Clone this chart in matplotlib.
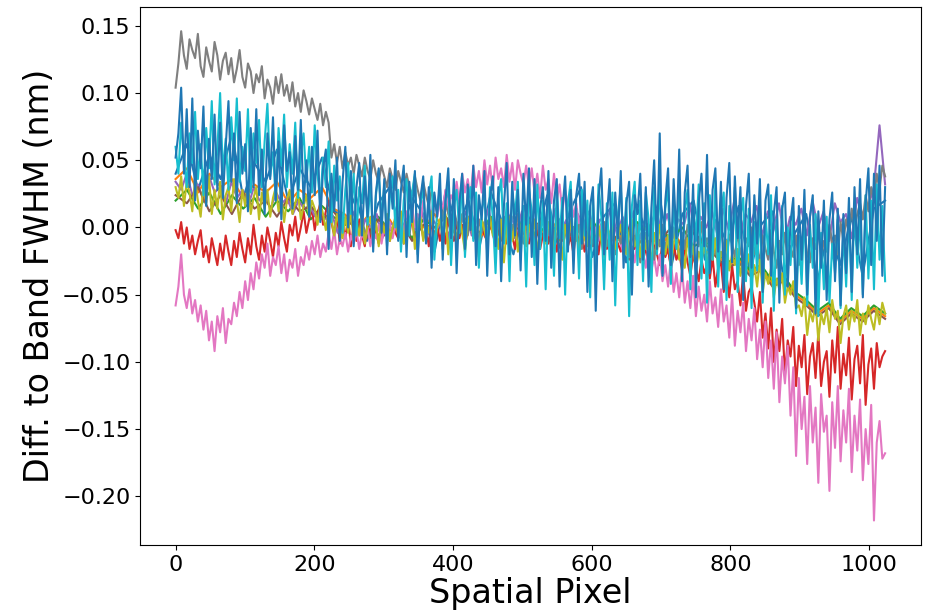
import numpy as np
import matplotlib
matplotlib.use("Agg")
import matplotlib.pyplot as plt

# Values in units of 1e-3 nm (converted to nm below)
blue_base = [
    40, 62, 28, 54, 36, 70, 22, 48, 34, 58, 20, 44, 30, 52, 14, 4,
    24, -10, 18, 30, -6, 22, 10, -18, 28, 0, 20, -14, 26, 4, -20, 16,
    -8, 24, -16, 12, 30, -22, 8, 18, -26, 14, -6, 22, -30, 10, 20, -24,
    6, -12, 16, -34, 2, 12, -38, -4, 10, -40, 0, -28, 8, -36, 14, 20]

orange = [
    36, 44, 26, 40, 30, 36, 22, 32, 26, 34, 18, 28, 22, 30, 14, 10,
    -2, 8, -6, 6, -8, 4, 0, 10, -6, 2, 8, -8, 4, -4, 8, -10,
    2, -6, 6, -10, 0, -8, 4, -12, -2, -8, 2, -14, -4, -12, -2, -18,
    -20, -28, -24, -34, -30, -42, -38, -50, -56, -64, -58, -70, -62, -68, -60, -66]

green = [
    20, 28, 14, 26, 10, 24, 14, 22, 8, 20, 12, 22, 6, 16, 8, 2,
    4, -6, 8, -2, 4, -8, 6, 0, 8, -6, 2, -4, 8, -8, 0, 4,
    -6, 2, -10, 2, -4, 6, -10, 0, -4, 4, -12, -2, -8, 0, -14, -10,
    -18, -26, -22, -32, -28, -40, -36, -48, -54, -62, -56, -68, -60, -66, -58, -64]

red = [
    -2, -8, 4, -12, 0, -16, -6, -20, -10, -2, -22, -14, -26, -8, -18, -28,
    -12, -24, -6, -18, -28, -10, -22, -4, -16, -26, -8, -20, 2, -14, -24, -6,
    -18, 0, -10, -22, -4, -14, 4, -8, -18, 2, -6, 8, -10, 0, 12, -4,
    6, 14, -2, 10, 18, 2, 12, 20, 4, -6, 10, -12, 4, -8, 8, -14,
    2, -10, 6, -6, -14, 4, -8, 8, -4, -12, 2, -6, 6, -10, 0, -4,
    -8, 4, -12, 2, -6, 8, -10, -2, 6, -8, 0, -14, 4, -6, 2, -10,
    0, -12, 6, -4, -10, 4, -8, 2, -14, -2, 6, -8, 0, -12, 4, -6,
    -10, 2, -4, -14, 4, -8, 0, -12, 6, -6, -16, 2, -10, -4, 4, -12,
    -2, -10, 2, -16, -6, 0, -12, 4, -8, -18, -2, -10, 2, -14, -6, -20,
    0, -12, -4, -18, -8, 2, -14, -6, -20, -2, -10, -16, -4, -22, -8, -12,
    -18, -6, -14, -24, -2, -16, -10, -22, -8, -18, -26, -6, -14, -20, -28, -10,
    -22, -16, -30, -12, -24, -18, -32, -14, -26, -36, -20, -30, -40, -24, -34, -28,
    -38, -22, -44, -30, -26, -48, -36, -52, -28, -46, -40, -58, -34, -62, -48, -44,
    -56, -70, -48, -82, -64, -90, -60, -100, -76, -92, -68, -110, -84, -96, -74, -118,
    -88, -104, -80, -124, -96, -86, -112, -78, -118, -100, -92, -126, -84, -108, -74, -120,
    -94, -110, -82, -128, -98, -88, -116, -80, -132, -102, -90, -120, -86, -104, -96, -92]

purple = [
    34, 28, 40, 24, 32, 20, 38, 26, 30, 18, 34, 22, 28, 16, 30, 20,
    24, 14, 26, 18, 22, 10, 20, 14, 16, 8, 12, 6,
    10, -4, 8, 2, 12, -6, 6, 0, 10, -8, 4, 2, 12, -4, 8, -2,
    14, -6, 6, 0, 10, -10, 4, 2, 12, -6, 8, -2, 14, -8,
    6, 0, 10, -4, 12, -10, 4, 2, 8, -6, 14, -2, 6, -8, 10, 0,
    12, -4, 6, 2, 16, -6, 8, -2, 12, -10, 4, 0, 14, -4,
    10, -8, 6, 2, 18, -4, 8, 0, 12, -6, 14, -2, 20, -8, 10, 4,
    16, -6, 12, -2, 18, -10, 8, 2,
    14, -6, 20, 0, 12, -10, 18, 4, 10, -8, 22, 8, 16, 30, 76, 32]

brown = [
    24, 18, 30, 12, 24, 10, 26, 14, 20, 8, 22, 12, 16, 6, 12, 2,
    4, -8, 6, -2, 4, -10, 2, 0, 8, -8, 4, -4, 6, -10, 0, -2,
    4, -12, 2, -6, 4, -12, 0, -8, 2, -14, -2, -10, 0, -16, -4, -12,
    -22, -30, -26, -36, -32, -44, -40, -52, -58, -66, -60, -72, -64, -70, -62, -68]

pink = [
    -58, -44, -20, -50, -60, -46, -64, -54, -70, -58, -76, -62, -84, -70, -92, -66,
    -78, -60, -86, -68, -72, -56, -66, -48, -60, -40, -54, -34, -46, -26, -38, -20,
    -30, -12, -36, -22, -28, -14, -34, -20, -40, -24, -30, -16, -36, -22, -28, -14,
    -24, -10, -20, -6, -22, -12, -18, -4, -16, -2, -20, -8, -14, -4, -18, -6,
    -12, -2, -16, -4, -10, 0, -14, -2, -8, 2, -12, 0, -6, 4, -8, 2,
    -2, 8, -4, 12, 2, 16, 0, 10, 6, 20, 4, 14, 10, 24, 8, 18,
    14, 28, 12, 24, 20, 34, 18, 40, 26, 36, 22, 46, 30, 42, 26, 50,
    32, 46, 28, 52, 36, 44, 30, 54, 34, 48, 28, 50, 40, 32, 46, 30,
    44, 26, 40, 22, 46, 28, 36, 18, 40, 20, 32, 12, 28, 16, 24, 8,
    18, 2, 12, -4, 8, -8, 4, -2, -10, 2, -12, -4, -14, 0, -16, -6,
    -12, -20, -8, -22, -14, -26, -10, -24, -18, -30, -14, -32, -22, -36, -20, -40,
    -28, -44, -24, -48, -34, -52, -30, -56, -40, -60, -36, -66, -44, -62, -50, -70,
    -40, -64, -52, -74, -46, -70, -58, -82, -50, -88, -62, -78, -56, -92, -68, -84,
    -60, -98, -76, -104, -70, -112, -84, -120, -78, -130, -96, -116, -88, -140, -104, -170,
    -112, -150, -126, -176, -118, -160, -134, -190, -124, -152, -140, -196, -130, -164, -118, -174,
    -136, -160, -120, -182, -140, -166, -128, -188, -150, -176, -132, -218, -160, -144, -172, -168]

gray = [
    104, 122, 146, 128, 118, 140, 132, 126, 144, 120, 112, 134, 124, 116, 138, 128,
    110, 124, 130, 114, 126, 108, 118, 132, 112, 104, 122, 116, 100, 114, 108, 120,
    96, 110, 104, 92, 112, 100, 114, 98, 106, 94, 108, 90, 100, 86, 102, 94,
    84, 96, 88, 80, 92, 76, 86, 78, 52, 62, 48, 60, 44, 56, 46, 52,
    40, 54, 46, 38, 52, 42, 36, 50, 40, 34, 46, 38, 30, 44, 36, 28,
    42, 34, 26, 40, 30, 24, 38, 28, 20, 34, 24, 16, 28, 18, 12, 22,
    6, 18, 10, 2, 14, 4, -4, 10, 0, -6, 8, -2, -10, 6, -4, 4,
    -8, 6, -2, -12, 4, -6, 8, -4, -10, 2, -8, 10, -2, -12, 0, 6,
    -6, -14, 2, -4, 8, -10, -2, 4, -12, -6, 6, -8, 0, -14, 4, -2,
    -10, 2, -16, -4, 6, -12, -2, -18, 0, -8, 4, -14, -6, 2, -20, -4,
    -12, 4, -8, -22, -2, -14, 2, -26, -10, -4, -18, 0, -24, -8, -14, 2,
    -16, -6, -20, 0, -12, -22, -4, -16, 2, -10, -20, -2, -14, 4, -18, -8,
    -14, -2, -20, -8, 0, -16, -24, -6, -12, -22, -4, -18, -26, -8, -14, 0,
    -20, -10, -28, -6, -16, -24, -2, -18, -30, -10, -20, -4, -26, -14, -22, -6,
    -28, -12, -2, -20, -26, -8, -16, 0, -22, -10, -18, 2, -14, -6, -20, 4,
    -10, 6, -4, 14, 0, 10, 18, 6, 24, 12, 30, 20, 40, 28, 46, 38]

olive = [
    30, 22, 38, 16, 34, 26, 12, 36, 20, 8, 32, 18, 38, 10, 28, 14,
    34, 6, 24, 30, 12, 36, 20, 4, 28, 16, 32, 10, 22, 30, 6, 26,
    14, 28, 8, 22, 30, 12, 24, 4, 20, 28, 10, 18, 26, 6, 16, 24,
    8, 20, 14, 2, 18, 10, -2, 14, 6, -6, 10, 0, -8, 8, -4, 12,
    -10, 4, -6, 10, -12, 2, 8, -8, 4, -14, 6, -4, 10, -10, 0, 8,
    -6, 12, -12, 4, -2, 10, -16, 2, 8, -10, 4, -4, 12, -14, 0, 6,
    -8, 10, -20, 2, 6, -12, 8, -4, -18, 4, 10, -8, 0, -22, 6, -2,
    -12, 8, -6, 2, -16, 6, -26, 0, 8, -10, 4, -18, -4, 10, -14, 2,
    -8, 6, -20, 0, 10, -12, 4, -6, -16, 8, -2, -24, 2, -10, 6, -14,
    0, -20, 4, -8, -14, 6, -4, -18, 2, -10, -22, 0, -6, 4, -16, -8,
    2, -12, -20, -4, 6, -14, -8, -22, 0, -16, -10, -26, -4, -18, 2, -12,
    -20, -6, -28, -12, -2, -24, -16, -30, -8, -22, -14, -32, -18, -26, -10, -28,
    -14, -24, -8, -30, -18, -26, -10, -32, -20, -28, -16, -36, -24, -30, -20, -40,
    -28, -44, -24, -48, -34, -42, -30, -52, -38, -46, -34, -56, -44, -50, -40, -60,
    -58, -66, -52, -80, -62, -70, -56, -84, -64, -72, -60, -78, -54, -68, -62, -86,
    -66, -58, -76, -62, -70, -54, -80, -64, -72, -58, -68, -76, -60, -72, -56, -64]

cyan = [
    60, 40, 78, 52, 30, 70, 48, 86, 36, 62, 24, 74, 44, 94, 32, 58,
    100, 40, 66, 28, 82, 50, 96, 34, 60, 42, 88, 26, 70, 48, 80, 30,
    64, 92, 38, 56, 20, 74, 46, 84, 30, 62, 40, 78, 22, 54, 70, 34,
    60, 26, 76, 40, 18, 52, 30, 64, 4, 46, 20, 38, -4, 28, 48, 10,
    40, -6, 30, 18, 46, 2, 34, -12, 24, 42, 6, 32, -14, 22, 38, 0,
    28, -18, 20, 36, -6, 26, 40, -20, 16, 30, -10, 24, 38, -24, 12, 30,
    -16, 20, 34, -28, 14, 28, -4, 36, -22, 18, 30, -10, 26, -30, 12, 24,
    -20, 30, 8, -34, 22, 36, -12, 18, -40, 26, 10, 34, -24, 16, -44, 28,
    12, -28, 32, -16, 20, -46, 26, 6, -36, 30, -8, 22, -50, 18, 34, -20,
    14, -38, 28, -6, 20, -52, 24, -30, 32, 8, -46, 18, -24, 26, -58, 10,
    30, -14, 22, -66, 16, 34, -28, 20, -40, 26, 6, -48, 30, -20, 38, -34,
    14, 30, -42, 22, -16, 36, -30, 12, 28, -46, 20, -10, 32, -38, 18, -56,
    24, -24, 34, -44, 10, 26, -54, 16, -18, 30, -48, 8, 22, -40, 14, -60,
    4, -32, 18, -56, 10, -20, 24, -62, 6, -38, 16, -50, 0, -28, 12, -64,
    -6, -42, 14, -58, 2, -30, 10, -66, -4, -46, 8, -56, -12, -34, 6, -60,
    -2, -44, 12, -54, 18, -30, 8, -50, 24, -38, 20, -46, 32, -24, 16, -40]

blue_top = [
    52, 70, 104, 40, 88, 30, 96, 20, 72, 44, 90, 16, 66, 36, 84, 28,
    78, 22, 60, 94, 34, 70, 18, 86, 40, 62, 12, 74, 30, 88, 24, 58,
    10, 70, 36, 82, 20, 64, 6, 76, 42, 56, 14, 68, 28, 80, 18, 50,
    8, 60, 24, 72, 4, 44, 58, -16, 40, 12, 52, -10, 34, 60, 0, 42,
    -14, 30, 48, -6, 38, 8, 54, -18, 26, 44, -4, 36, -20, 40, 14, 50,
    -10, 28, 46, -22, 34, 4, 42, -26, 22, 38, -12, 30, -30, 26, 8, 40,
    -24, 20, 44, -8, 36, -34, 18, 40, -16, 32, -2, 46, -28, 24, 6, 42,
    -36, 22, 38, -14, 30, -40, 16, 48, -20, 34, -6, 28, -32, 40, 2, 44,
    -22, 36, -42, 14, 30, -10, 42, -30, 20, 36, -44, 12, 38, -18, 28, -34,
    24, 40, -12, 34, -48, 16, 30, -62, 22, 44, -20, 8, 36, -40, 26, -8,
    42, -30, 18, 34, -50, 24, 10, 40, -24, 30, -44, 14, 50, -16, 70, -36,
    20, 44, -28, 36, -8, 58, -40, 26, 46, -22, 32, -52, 18, 40, -14, 54,
    -34, 28, 44, -18, 34, -46, 22, 48, -26, 38, -8, 30, -54, 16, 40, -30,
    24, -12, 36, -48, 20, 32, -36, 10, 30, -56, 14, 26, -44, 4, 22, -60,
    16, -24, 28, -50, 8, 24, -64, 12, -30, 20, -54, 6, 26, -40, 14, -58,
    10, -34, 22, -48, 30, -20, 36, -52, 18, 44, -28, 40, -10, 46, -36, 30]

series = [blue_base, orange, green, red, purple, brown, pink, gray, olive, cyan, blue_top]
colors = ["tab:blue", "tab:orange", "tab:green", "tab:red", "tab:purple", "tab:brown",
          "tab:pink", "tab:gray", "tab:olive", "tab:cyan", "tab:blue"]

x_ticks = [0, 200, 400, 600, 800, 1000]
y_ticks = [-0.20, -0.15, -0.10, -0.05, 0.00, 0.05, 0.10, 0.15]
n_pixels = 1024

fig = plt.figure(figsize=(9.28, 6.13), dpi=100)
ax = fig.add_axes([0.151, 0.111, 0.841, 0.878])
for vals, c in zip(series, colors):
    v = np.asarray(vals, dtype=float) / 1000.0
    x = np.linspace(0, n_pixels - 1, len(v))
    ax.plot(x, v, color=c, lw=1.5)

ax.set_xticks(x_ticks)
ax.set_yticks(y_ticks)
ax.tick_params(labelsize=16)
ax.set_xlabel("Spatial Pixel", fontsize=24, labelpad=2)
ax.set_ylabel("Diff. to Band FWHM (nm)", fontsize=24)
fig.savefig("out.png", dpi=100)
